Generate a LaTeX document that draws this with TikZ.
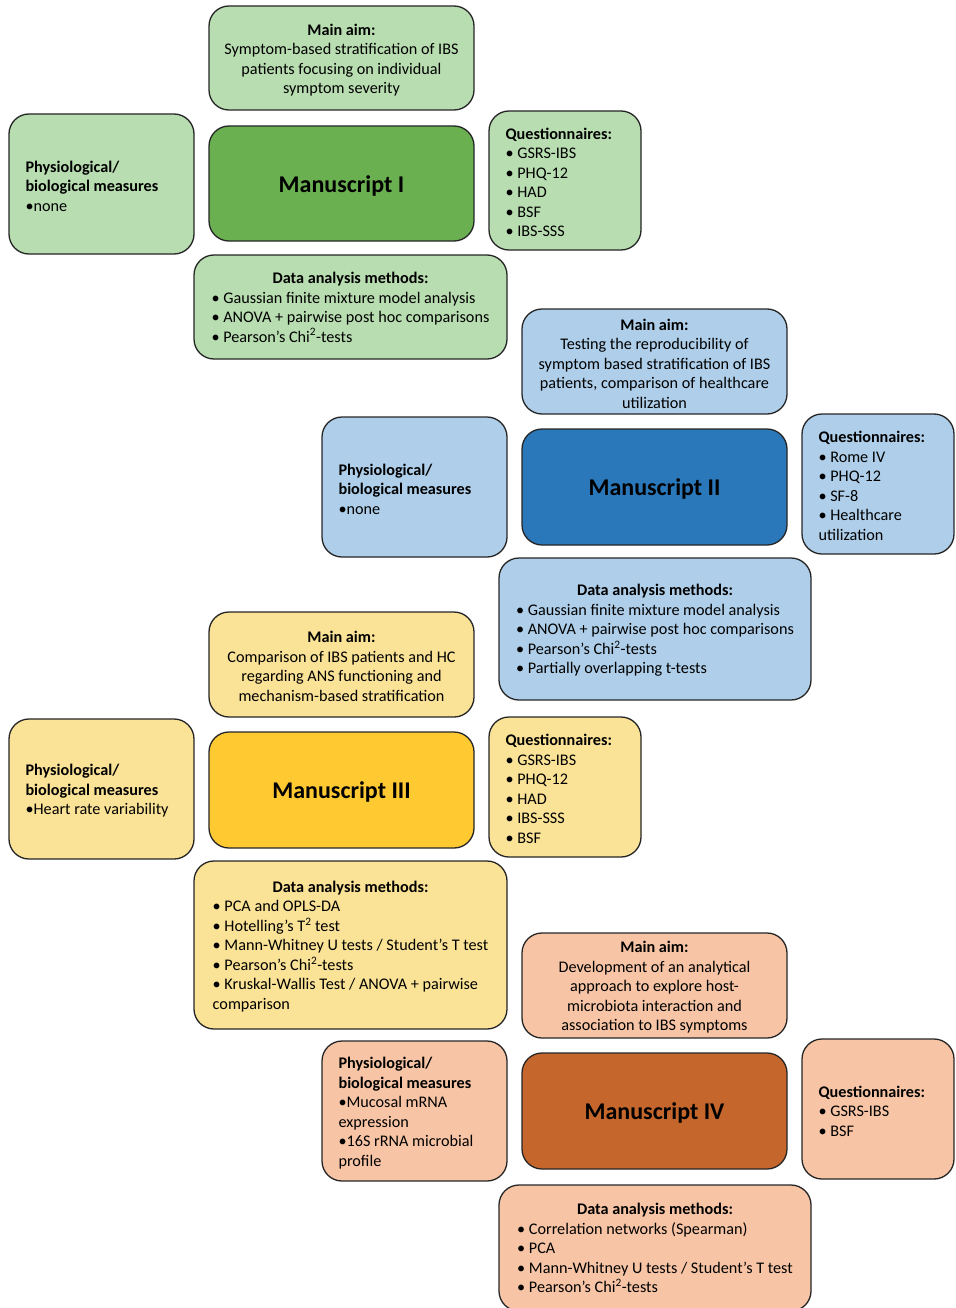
\documentclass[tikz,border=0pt]{standalone}
\usepackage{fontspec}
\setmainfont{Carlito}
\usepackage{array}

\definecolor{grL}{HTML}{B8DDB0}
\definecolor{grD}{HTML}{6AB050}
\definecolor{blL}{HTML}{AECEE9}
\definecolor{blD}{HTML}{2A77BA}
\definecolor{yeL}{HTML}{FAE296}
\definecolor{yeD}{HTML}{FFC932}
\definecolor{orL}{HTML}{F7C5A5}
\definecolor{orD}{HTML}{C5662D}
\definecolor{edge}{HTML}{262626}

\tikzset{
  box/.style={draw=edge, line width=1.3pt, rounded corners=20pt, inner sep=0pt},
  body/.style={font=\fontsize{16.2}{19.5}\selectfont, inner sep=0pt, yshift=-2pt},
  aimtext/.style={body, align=center},
  lefttext/.style={body, align=left, anchor=west},
  mstitle/.style={font=\fontsize{24}{28}\selectfont\bfseries, inner sep=0pt, yshift=-2pt},
}

% one rounded box: name, fill, centre x, centre y, width, height
\newcommand{\rbox}[6]{%
  \node[box, fill=#2, minimum width=#5pt, minimum height=#6pt] (#1) at (#3,#4) {};}

\newcommand{\datalist}[2]{%
  \begin{tabular}{@{}l@{}}\multicolumn{1}{@{}c@{}}{\textbf{#1}}\\#2\end{tabular}}

\begin{document}
\begin{tikzpicture}[x=1pt, y=-1pt]
\useasboundingbox (0,0) rectangle (955,1308);

% ---------------- Manuscript I ----------------
\rbox{aim1}{grL}{341.5}{58}{265}{104}
\rbox{phys1}{grL}{101.5}{184}{185}{140}
\rbox{ms1}{grD}{341.5}{183.5}{265}{115}
\rbox{q1}{grL}{565}{180.5}{152}{139}
\rbox{data1}{grL}{350.5}{307}{313}{104}

\node[aimtext] (aim1t) at (aim1) {\textbf{Main aim:}\\Symptom-based stratification of IBS\\patients focusing on individual\\symptom severity};
\node[lefttext] (phys1t) at ([xshift=17pt]phys1.west) {\textbf{Physiological/}\\\textbf{biological measures}\\•none};
\node[mstitle] (ms1t) at (ms1) {Manuscript I};
\node[lefttext] (q1t) at ([xshift=17pt]q1.west) {\textbf{Questionnaires:}\\• GSRS-IBS\\• PHQ-12\\• HAD\\• BSF\\• IBS-SSS};
\node[body] (data1t) at (data1) {\datalist{Data analysis methods:}{%
  • Gaussian finite mixture model analysis\\
  • ANOVA + pairwise post hoc comparisons\\
  • Pearson’s Chi\textsuperscript{2}-tests}};

% ---------------- Manuscript II ----------------
\rbox{aim2}{blL}{654.5}{361.5}{265}{105}
\rbox{phys2}{blL}{414.5}{487}{185}{140}
\rbox{ms2}{blD}{654.5}{487}{265}{116}
\rbox{q2}{blL}{878}{484}{152}{140}
\rbox{data2}{blL}{655}{629}{312}{142}

\node[aimtext] (aim2t) at (aim2) {\textbf{Main aim:}\\Testing the reproducibility of\\symptom based stratification of IBS\\patients, comparison of healthcare\\utilization};
\node[lefttext] (phys2t) at ([xshift=17pt]phys2.west) {\textbf{Physiological/}\\\textbf{biological measures}\\•none};
\node[mstitle] (ms2t) at (ms2) {Manuscript II};
\node[lefttext] (q2t) at ([xshift=17pt]q2.west) {\textbf{Questionnaires:}\\• Rome IV\\• PHQ-12\\• SF-8\\• Healthcare\\utilization};
\node[body] (data2t) at (data2) {\datalist{Data analysis methods:}{%
  • Gaussian finite mixture model analysis\\
  • ANOVA + pairwise post hoc comparisons\\
  • Pearson’s Chi\textsuperscript{2}-tests\\
  • Partially overlapping t-tests}};

% ---------------- Manuscript III ----------------
\rbox{aim3}{yeL}{341.5}{664.5}{265}{105}
\rbox{phys3}{yeL}{101.5}{789}{185}{140}
\rbox{ms3}{yeD}{341.5}{790}{265}{116}
\rbox{q3}{yeL}{565}{787}{152}{140}
\rbox{data3}{yeL}{350.5}{945}{313}{168}

\node[aimtext] (aim3t) at (aim3) {\textbf{Main aim:}\\Comparison of IBS patients and HC\\regarding ANS functioning and\\mechanism-based stratification};
\node[lefttext] (phys3t) at ([xshift=17pt]phys3.west) {\textbf{Physiological/}\\\textbf{biological measures}\\•Heart rate variability};
\node[mstitle] (ms3t) at (ms3) {Manuscript III};
\node[lefttext] (q3t) at ([xshift=17pt]q3.west) {\textbf{Questionnaires:}\\• GSRS-IBS\\• PHQ-12\\• HAD\\• IBS-SSS\\• BSF};
\node[body] (data3t) at (data3) {\datalist{Data analysis methods:}{%
  • PCA and OPLS-DA\\
  • Hotelling’s T\textsuperscript{2} test\\
  • Mann-Whitney U tests / Student’s T test\\
  • Pearson’s Chi\textsuperscript{2}-tests\\
  • Kruskal-Wallis Test / ANOVA + pairwise\\
  comparison}};

% ---------------- Manuscript IV ----------------
\rbox{aim4}{orL}{654.5}{985.5}{265}{105}
\rbox{phys4}{orL}{414.5}{1111}{185}{140}
\rbox{ms4}{orD}{654.5}{1111}{265}{116}
\rbox{q4}{orL}{878}{1109}{152}{140}
\rbox{data4}{orL}{655}{1248}{312}{126}

\node[aimtext] (aim4t) at (aim4) {\textbf{Main aim:}\\Development of an analytical\\approach to explore host-\\microbiota interaction and\\association to IBS symptoms};
\node[lefttext] (phys4t) at ([xshift=17pt]phys4.west) {\textbf{Physiological/}\\\textbf{biological measures}\\•Mucosal mRNA\\expression\\•16S rRNA microbial\\profile};
\node[mstitle] (ms4t) at (ms4) {Manuscript IV};
\node[lefttext] (q4t) at ([xshift=17pt]q4.west) {\textbf{Questionnaires:}\\• GSRS-IBS\\• BSF};
\node[body] (data4t) at (data4) {\datalist{Data analysis methods:}{%
  • Correlation networks (Spearman)\\
  • PCA\\
  • Mann-Whitney U tests / Student’s T test\\
  • Pearson’s Chi\textsuperscript{2}-tests}};

\end{tikzpicture}
\end{document}
